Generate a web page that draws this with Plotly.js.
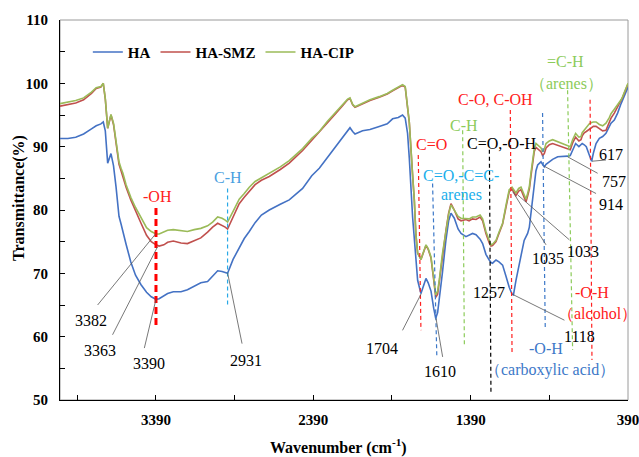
<!DOCTYPE html>
<html><head><meta charset="utf-8">
<script src="https://cdn.plot.ly/plotly-3.0.1.min.js"></script>
<style>html,body{margin:0;padding:0;background:#fff}#chart{width:639px;height:457px}</style>
</head><body><div id="chart"></div>
<script>
// ---------- data ----------
const wavenumber = [4000,3950,3900,3850,3800,3770,3740,3725,3712,3697,3676,3660,3644,3625,3612,3600,3580,3550,3520,3485,3450,3420,3390,3370,3340,3316,3280,3231,3190,3147,3105,3062,3030,2998,2970,2950,2935,2900,2861,2829,2797,2760,2720,2670,2600,2543,2458,2400,2352,2300,2246,2200,2172,2157,2140,2125,2077,2030,1971,1920,1886,1850,1823,1806,1791,1780,1759,1748,1738,1727,1706,1690,1674,1660,1642,1625,1612,1600,1589,1570,1547,1530,1515,1494,1470,1451,1420,1400,1378,1356,1330,1314,1293,1272,1261,1251,1229,1210,1187,1165,1145,1127,1118,1102,1085,1070,1050,1038,1028,1017,1006,996,986,975,964,943,933,922,911,890,869,837,806,774,757,742,723,702,689,681,668,655,636,621,610,593,572,551,530,509,498,477,456,434,424,405,390];
const transHA = [91.3,91.3,91.5,92.0,92.8,93.3,93.6,93.9,92.5,87.4,88.9,87.0,83.7,79.0,77.8,76.5,74.6,71.8,69.7,68.2,67.0,66.3,65.9,66.0,66.4,66.8,67.1,67.1,67.4,67.9,68.5,68.7,69.5,70.4,70.3,70.1,70.0,72.2,74.0,75.5,76.6,78.0,79.2,80.0,80.9,81.6,83.4,85.4,86.6,88.3,90.0,91.6,92.6,93.0,92.4,92.0,92.5,92.7,93.2,93.6,94.4,94.6,95.0,94.5,92.1,88.2,78.9,75.0,71.5,68.9,66.8,68.0,69.2,68.5,67.2,64.5,62.9,63.8,65.8,70.0,75.3,78.3,79.5,78.7,77.0,76.3,75.8,76.0,76.3,76.1,75.4,74.7,73.0,72.1,71.7,71.6,72.1,71.8,71.3,69.5,67.8,66.7,66.6,68.9,71.0,72.6,75.2,75.8,76.3,77.3,79.5,82.0,84.2,86.2,87.1,87.6,87.2,86.8,87.2,87.6,88.0,88.4,88.4,88.5,88.6,89.5,90.5,90.0,90.3,90.5,90.3,90.0,88.7,87.7,89.0,90.5,91.3,91.6,92.1,93.2,93.7,94.2,95.3,96.8,97.4,98.6,99.4];
const transSMZ = [96.4,96.6,96.9,97.4,98.4,99.2,99.4,100.0,97.5,92.9,95.0,93.5,90.8,87.2,86.2,85.2,83.6,81.6,79.8,77.9,76.0,75.0,74.5,74.3,74.5,74.9,75.1,74.8,74.7,75.2,75.6,76.5,77.3,77.9,77.6,77.3,77.0,79.0,81.0,82.0,83.0,84.0,84.7,85.3,86.4,87.4,89.4,91.0,92.2,93.8,95.3,96.6,97.4,97.6,96.6,96.2,96.8,97.3,97.8,98.3,98.8,99.3,99.7,99.4,96.5,93.8,85.5,81.5,76.1,73.2,72.2,73.3,74.4,73.8,72.4,69.0,66.2,66.7,68.8,72.8,76.8,79.5,81.0,80.0,78.6,78.3,78.5,78.3,78.6,78.5,78.9,78.3,76.3,74.8,74.3,74.4,75.0,76.3,77.8,80.5,82.9,83.3,82.9,82.3,83.0,83.2,82.0,81.3,82.2,83.3,85.5,87.5,89.2,89.9,89.7,89.2,88.6,88.9,89.8,90.3,90.5,90.2,89.9,89.6,89.5,90.6,91.5,90.9,91.1,91.7,92.2,92.4,92.8,93.0,93.2,93.2,92.8,92.5,92.6,93.8,94.5,95.3,96.3,97.2,97.8,99.0,99.9];
const transCIP = [96.8,97.0,97.3,97.7,98.6,99.3,99.5,100.0,97.6,92.9,95.1,93.7,91.1,87.6,86.6,85.8,84.0,82.0,80.4,78.7,77.2,76.6,76.2,76.2,76.5,76.8,76.9,76.7,76.6,76.9,77.1,77.5,78.1,78.9,78.7,78.4,78.1,79.8,81.7,82.6,83.6,84.5,85.1,85.8,86.8,87.8,89.7,91.3,92.4,94.0,95.5,96.8,97.5,97.7,96.7,96.3,96.9,97.4,97.9,98.4,98.9,99.4,99.8,99.5,96.6,93.9,85.5,81.6,76.1,73.2,72.2,73.4,74.5,73.9,72.6,69.3,66.6,67.2,69.0,73.0,76.8,79.3,80.8,80.0,79.0,78.7,78.7,78.6,78.9,78.9,79.2,78.6,76.6,75.0,74.5,74.6,75.2,76.5,77.9,80.8,83.2,83.6,83.3,82.7,83.4,83.6,82.4,81.7,82.6,83.7,86.0,87.9,89.6,90.5,90.3,89.8,89.2,89.6,90.5,90.9,91.1,90.8,90.5,90.1,90.0,91.1,92.1,91.5,91.6,92.2,92.6,93.0,93.6,93.8,93.9,93.9,93.5,93.3,93.7,94.6,95.2,95.9,96.6,97.4,97.9,99.1,100.0];
const seriesNames = ['HA', 'HA-SMZ', 'HA-CIP'];
const xTickVals = [3390, 2390, 1390, 390];
const xTickText = ['3390', '2390', '1390', '390'];

// ---------- annotation layer (band markers & peak labels) ----------
const SERIF = 'Liberation Serif';
const bandMarks = [
  {x0:3390, x1:3390, y0:80.3, y1:61.5, color:'#FF0000', w:3},
  {x0:2935, x1:2935, y0:83.4, y1:64.7, color:'#29A9E6', w:1.2},
  {x0:1723, x1:1706, y0:88.7, y1:61.0, color:'#FF2020', w:1.2},
  {x0:1632, x1:1605, y0:84.2, y1:56.8, color:'#3C78C8', w:1.2},
  {x0:1441, x1:1430, y0:92.6, y1:58.7, color:'#8CCB5A', w:1.2},
  {x0:1271, x1:1261, y0:89.5, y1:51.1, color:'#000000', w:1.2},
  {x0:1138, x1:1127, y0:95.8, y1:57.4, color:'#FF2020', w:1.2},
  {x0:933,  x1:916,  y0:95.3, y1:61.4, color:'#3C78C8', w:1.2},
  {x0:774,  x1:742,  y0:98.9, y1:57.9, color:'#8CCB5A', w:1.2},
  {x0:631,  x1:619,  y0:97.4, y1:56.3, color:'#FF2020', w:1.2}
];
const bandTexts = [
  {t:'-OH', x:3382, y:82.1, c:'#FF2020'},
  {t:'C-H', x:2930, y:85.1, c:'#4A9FE0'},
  {t:'C=O', x:1640, y:90.3, c:'#FF2020'},
  {t:'C=O,-C=C-', x:1450, y:85.5, c:'#1AAEEB'},
  {t:'arenes', x:1447, y:82.4, c:'#1AAEEB'},
  {t:'C-H', x:1432, y:93.4, c:'#8CCB5A'},
  {t:'C=O,-O-H', x:1197, y:90.5, c:'#000000'},
  {t:'C-O, C-OH', x:1233, y:97.4, c:'#FF2020'},
  {t:'=C-H', x:788, y:103.4, c:'#8CCB5A'},
  {t:'（arenes）', x:784, y:100.0, c:'#8CCB5A'},
  {t:'-O-H', x:617, y:66.9, c:'#FF2020'},
  {t:'（alcohol）', x:583, y:63.7, c:'#FF2020'},
  {t:'-O-H', x:914, y:58.2, c:'#3C78C8'},
  {t:'（carboxylic acid）', x:885, y:54.7, c:'#3C78C8'}
];
const peakTexts = [
  {t:'3382', x:3800, y:62.6, lx0:3390, ly0:76.3, lx1:3761, ly1:65.0},
  {t:'3363', x:3748, y:57.8, lx0:3380, ly0:74.2, lx1:3666, ly1:60.3},
  {t:'3390', x:3437, y:55.7, lx0:3390, ly0:65.9, lx1:3464, ly1:58.2},
  {t:'2931', x:2820, y:56.3, lx0:2935, ly0:70.1, lx1:2843, ly1:58.9},
  {t:'1704', x:1952, y:58.2, lx0:1704, ly0:66.8, lx1:1823, ly1:61.0},
  {t:'1610', x:1582, y:54.5, lx0:1610, ly0:62.9, lx1:1568, ly1:56.8},
  {t:'1257', x:1276, y:66.9},
  {t:'1118', x:700, y:60.0, lx0:1125, ly0:66.7, lx1:794, ly1:62.6},
  {t:'1035', x:898, y:72.4, lx0:1123, ly0:82.9, lx1:911, ly1:74.5},
  {t:'1033', x:678, y:73.4, lx0:1092, ly0:82.4, lx1:763, ly1:75.3},
  {t:'914', x:498, y:80.8, lx0:922, ly0:86.9, lx1:593, ly1:82.6},
  {t:'757', x:477, y:84.5, lx0:774, ly0:88.4, lx1:583, ly1:85.8},
  {t:'617', x:498, y:88.8, lx0:619, ly0:87.7, lx1:530, ly1:87.9}
];

const seriesY = [transHA, transSMZ, transCIP];
const seriesColors = ['#4472C4', '#C0504D', '#9BBB59'];
const traces = seriesNames.map((n, i) => ({
  type: 'scatter', mode: 'lines', name: n,
  x: wavenumber, y: seriesY[i],
  line: {color: seriesColors[i], width: 1.6}
}));

const shapes = [
  {type:'rect', xref:'paper', yref:'paper', x0:0, x1:1, y0:0, y1:1, line:{color:'#9A9A9A', width:1}, layer:'below'}
];
bandMarks.forEach(b => shapes.push({type:'line', xref:'x', yref:'y', x0:b.x0, x1:b.x1, y0:b.y0, y1:b.y1,
  line:{color:b.color, width:b.w, dash: b.w > 2 ? '7px,4px' : '4px,3px'}}));
peakTexts.forEach(p => { if (p.lx0 !== undefined) shapes.push({type:'line', xref:'x', yref:'y',
  x0:p.lx0, y0:p.ly0, x1:p.lx1, y1:p.ly1, line:{color:'#555555', width:0.8}}); });

const annotations = [];
bandTexts.forEach(b => annotations.push({xref:'x', yref:'y', x:b.x, y:b.y, text:b.t, showarrow:false,
  xanchor:'center', yanchor:'middle', font:{family:SERIF, size:16, color:b.c}}));
peakTexts.forEach(p => annotations.push({xref:'x', yref:'y', x:p.x, y:p.y, text:p.t, showarrow:false,
  xanchor:'center', yanchor:'middle', font:{family:SERIF, size:16, color:'#000'}}));
annotations.push({xref:'paper', yref:'paper', x:(19-60)/568, y:(400-198)/380, textangle:-90,
  xanchor:'center', yanchor:'middle',
  text:'Transmittance(%)', showarrow:false, font:{family:SERIF, size:16, color:'#000', weight:'bold'}});
annotations.push({xref:'paper', yref:'paper', x:(338-60)/568, y:(400-446)/380,
  xanchor:'center', yanchor:'middle',
  text:'Wavenumber (cm<sup>-1</sup>)', showarrow:false, font:{family:SERIF, size:16, color:'#000', weight:'bold'}});

const layout = {
  width: 639, height: 457,
  margin: {l:60, r:11, t:20, b:57},
  paper_bgcolor:'#fff', plot_bgcolor:'#fff',
  showlegend: true,
  legend: {orientation:'h', x:0.049, y:0.915, yanchor:'middle', xanchor:'left', bgcolor:'rgba(0,0,0,0)',
    font:{family:SERIF, size:15, color:'#000', weight:'bold'}, itemwidth:30, tracegroupgap:0},
  xaxis: {range:[4000, 390], tickmode:'array', tickvals:xTickVals, ticktext:xTickText,
    showline:true, linecolor:'#000', linewidth:1, mirror:false, showgrid:false, zeroline:false,
    ticks:'inside', ticklen:5, tickcolor:'#000', ticklabelstandoff:6, ticklabeloverflow:'allow',
    minor:{tickmode:'array', tickvals:[3890, 2890, 1890, 890], ticks:'inside', ticklen:5, tickcolor:'#000'},
    tickfont:{family:SERIF, size:15, color:'#000', weight:'bold'}},
  yaxis: {range:[50, 110], dtick:10, tick0:50,
    showline:true, linecolor:'#000', linewidth:1, mirror:false, showgrid:false, zeroline:false,
    ticks:'inside', ticklen:5, tickcolor:'#000', ticklabelstandoff:8,
    minor:{dtick:5, ticks:'inside', ticklen:5, tickcolor:'#000'},
    tickfont:{family:SERIF, size:15, color:'#000', weight:'bold'}},
  shapes: shapes,
  annotations: annotations
};

Plotly.newPlot('chart', traces, layout, {staticPlot:true, displayModeBar:false});
</script></body></html>
